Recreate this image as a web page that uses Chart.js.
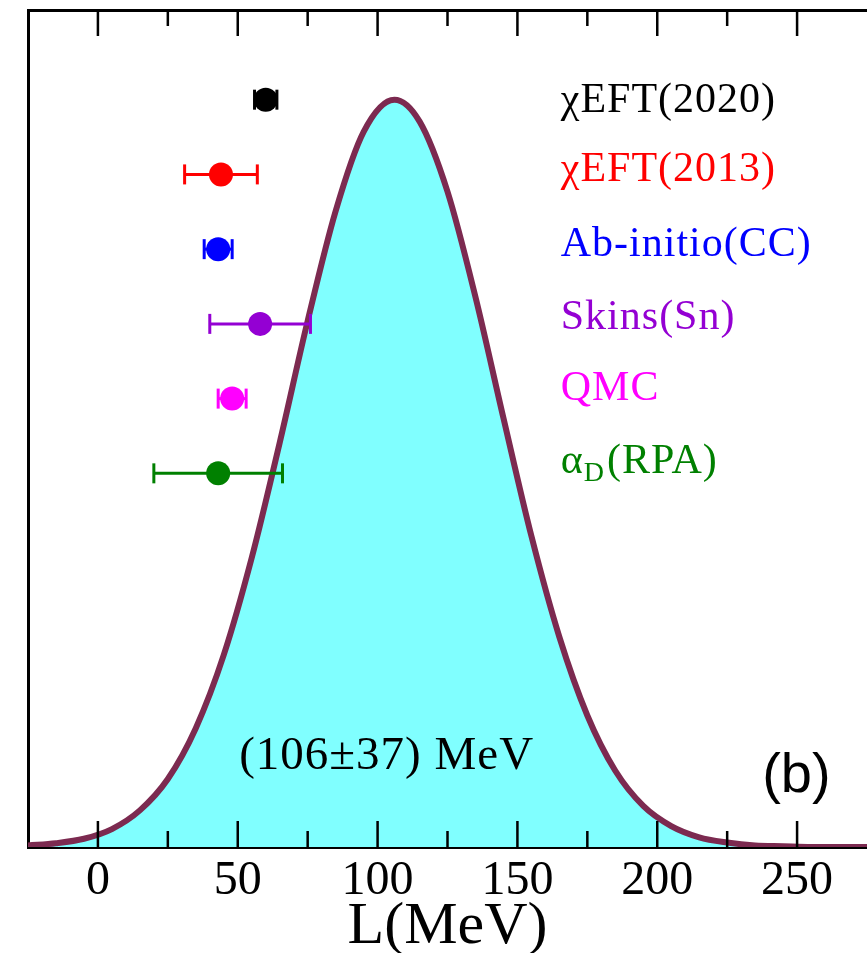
<!DOCTYPE html>
<html>
<head>
<meta charset="utf-8">
<script src="https://cdn.jsdelivr.net/npm/chart.js@4.4.1/dist/chart.umd.min.js"></script>
<style>
  html, body { margin: 0; padding: 0; background: #fff; overflow: hidden; }
  canvas { display: block; }
</style>
</head>
<body>
<canvas id="grafico" width="867" height="953"></canvas>
<script>
// Curva de probabilidad de L (MeV)
const curvaL = [-25, -15, -5, 5, 15, 25, 35, 45, 55, 65, 75, 85, 95, 106, 115, 125, 135, 145, 155, 165, 175, 185, 195, 205, 215, 225, 235, 245, 255, 265, 275];
const curvaY = [0.002, 0.005, 0.011, 0.024, 0.049, 0.091, 0.159, 0.257, 0.387, 0.541, 0.704, 0.851, 0.957, 1.000, 0.971, 0.877, 0.736, 0.574, 0.416, 0.281, 0.176, 0.102, 0.055, 0.028, 0.013, 0.006, 0.002, 0.001, 0.000, 0.000, 0.000];

// Restricciones de L con su barra de error
const etiquetas = ['χEFT(2020)', 'χEFT(2013)', 'Ab-initio(CC)', 'Skins(Sn)', 'QMC', 'α_D(RPA)'];
const valoresL = [60, 44, 43, 58, 48, 43];
const erroresL = [4, 13, 5, 18, 5, 23];
const filasY = [1.0, 0.9, 0.8, 0.7, 0.6, 0.5];

const ticksMayores = [0, 50, 100, 150, 200, 250];
const ticksMenores = [25, 75, 125, 175, 225];

const colores = ['#000000', '#ff0000', '#0000ff', '#9400d3', '#ff00ff', '#008000'];
const serif = 'Liberation Serif, Times New Roman, serif';

// Marcas hacia dentro, arriba y abajo
const marcasInternas = {
    id: 'marcasInternas',
    afterDraw(chart) {
        const { ctx, chartArea: a, scales: { x } } = chart;
        ctx.save();
        ctx.strokeStyle = '#000';
        ctx.lineWidth = 2.5;
        const dibujar = (vals, largo) => vals.forEach(v => {
            const px = x.getPixelForValue(v);
            ctx.beginPath();
            ctx.moveTo(px, a.bottom); ctx.lineTo(px, a.bottom - largo);
            ctx.moveTo(px, a.top); ctx.lineTo(px, a.top + largo);
            ctx.stroke();
        });
        dibujar(ticksMayores, 26);
        dibujar(ticksMenores, 16);
        ctx.restore();
    }
};

// Textos: etiquetas de la leyenda, valor y (b)
const textos = {
    id: 'textos',
    afterDraw(chart) {
        const { ctx, scales: { x, y } } = chart;
        const lineasBase = [0.983, 0.891, 0.791, 0.693, 0.598, 0.5];
        ctx.save();
        ctx.textAlign = 'left';
        ctx.textBaseline = 'alphabetic';
        ctx.letterSpacing = '1px';
        const x0 = x.getPixelForValue(165.5);
        etiquetas.forEach((t, i) => {
            const yb = y.getPixelForValue(lineasBase[i]);
            ctx.fillStyle = colores[i];
            ctx.font = '42px ' + serif;
            const m = t.match(/^(.*?)_(.)(.*)$/);
            if (m) {
                ctx.fillText(m[1], x0, yb);
                let px = x0 + ctx.measureText(m[1]).width;
                ctx.font = '28px ' + serif;
                ctx.fillText(m[2], px, yb + 8);
                px += ctx.measureText(m[2]).width + 2;
                ctx.font = '42px ' + serif;
                ctx.fillText(m[3], px, yb);
            } else {
                ctx.fillText(t, x0, yb);
            }
        });

        ctx.fillStyle = '#000';
        ctx.font = '47px ' + serif;
        ctx.fillText('(106±37) MeV', x.getPixelForValue(50.5), y.getPixelForValue(0.104));

        ctx.letterSpacing = '0px';
        ctx.font = '56px Liberation Sans, Arial, sans-serif';
        ctx.fillText('(b)', x.getPixelForValue(237.5), y.getPixelForValue(0.073));
        ctx.restore();
    }
};

const datasets = [];
datasets.push({
    type: 'line',
    data: curvaL.map((v, i) => ({ x: v, y: curvaY[i] })),
    borderColor: '#7c2a50',
    borderWidth: 6,
    backgroundColor: '#80ffff',
    fill: 'origin',
    pointRadius: 0,
    cubicInterpolationMode: 'monotone',
    order: 3
});
valoresL.forEach((v, i) => {
    datasets.push({
        type: 'line',
        data: [{ x: v - erroresL[i], y: filasY[i] }, { x: v + erroresL[i], y: filasY[i] }],
        borderColor: colores[i],
        borderWidth: 3,
        fill: false,
        pointStyle: 'line',
        pointRotation: 90,
        pointRadius: 10,
        pointBorderWidth: 3,
        pointBorderColor: colores[i],
        order: 2
    });
});
datasets.push({
    type: 'scatter',
    data: valoresL.map((v, i) => ({ x: v, y: filasY[i] })),
    pointBackgroundColor: colores,
    pointBorderWidth: 0,
    pointRadius: 12,
    order: 1
});

new Chart(document.getElementById('grafico'), {
    type: 'line',
    data: { datasets },
    options: {
        responsive: false,
        animation: false,
        events: [],
        layout: { autoPadding: false, padding: { left: 28, top: 10, right: 0, bottom: 0 } },
        plugins: { legend: { display: false }, tooltip: { enabled: false } },
        scales: {
            x: {
                type: 'linear', min: -25, max: 275, position: 'bottom',
                afterBuildTicks: s => { s.ticks = ticksMayores.map(v => ({ value: v })); },
                afterFit: s => { s.paddingLeft = 0; s.paddingRight = 0; },
                grid: { display: false, drawTicks: false },
                border: { display: true, color: '#000', width: 3 },
                ticks: { color: '#000', font: { family: serif, size: 48, lineHeight: 1 }, padding: 10, maxRotation: 0, autoSkip: false },
                title: { display: true, text: 'L(MeV)', color: '#000', font: { family: serif, size: 60, lineHeight: 1 }, padding: { top: -18, bottom: -4 } }
            },
            xArriba: {
                type: 'linear', min: -25, max: 275, position: 'top',
                grid: { display: false, drawTicks: false },
                ticks: { display: false },
                border: { display: true, color: '#000', width: 3 }
            },
            y: {
                type: 'linear', min: 0, max: 1.12,
                grid: { display: false, drawTicks: false },
                ticks: { display: false },
                border: { display: true, color: '#000', width: 3 }
            }
        }
    },
    plugins: [marcasInternas, textos]
});
</script>
</body>
</html>
